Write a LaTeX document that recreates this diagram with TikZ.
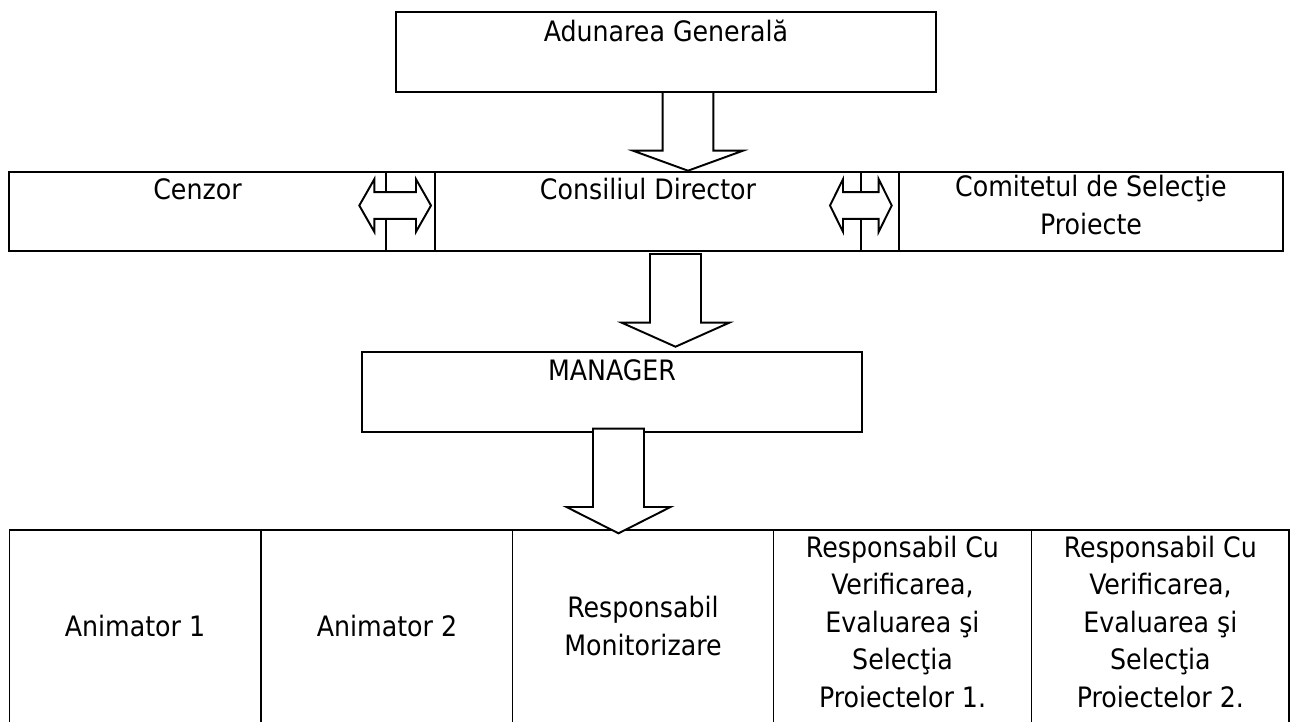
\documentclass[tikz,border=0pt]{standalone}
\usepackage{fontspec}
\setmainfont{DejaVu Sans Condensed}

% down block arrow: top point, shaft half width, shaft length, head half width, head length
\newcommand{\blockdown}[5]{%
  \draw[blockarrow] (#1) ++(-#2,0) -- ++(0,#3) -- ++(#2-#4,0) -- ++(#4,#5)
    -- ++(#4,-#5) -- ++(#2-#4,0) -- ++(0,-#3) -- cycle;}
% left-right block arrow: left tip, total length, head length
\newcommand{\blockboth}[3]{%
  \draw[blockarrow] (#1) -- ++(#3,-26.3) -- ++(0,13) -- ++(#2-2*#3,0) -- ++(0,-13)
    -- ++(#3,26.3) -- ++(-#3,26.3) -- ++(0,-13) -- ++(2*#3-#2,0) -- ++(0,13) -- cycle;}

\begin{document}
\begin{tikzpicture}[x=0.02cm,y=-0.02cm]
  \tikzset{lbl/.style={anchor=base,inner sep=0pt,font=\fontsize{16}{19}\selectfont},
           cell/.style={line width=0.8pt},
           grid/.style={line width=0.65pt},
           blockarrow/.style={draw,fill=white,line width=1.1pt,miter limit=10}}
  \useasboundingbox (0,0) rectangle (1292,721);
  \clip (0,0) rectangle (1292,721);

  % Adunarea Generala
  \draw[cell] (396,12) rectangle (936,92);
  \node[lbl] (adunarea) at (666,41) {Adunarea Generală};

  % Cenzor / Consiliul Director / Comitetul
  \draw[cell] (9,172) rectangle (1283,251);
  \foreach \x in {386,435,861,899}
    \draw[grid] (\x,172) -- (\x,251);
  \node[lbl] (cenzor) at (197.5,199) {Cenzor};
  \node[lbl] (consiliu) at (648,199) {Consiliul Director};
  \node[lbl] (comitet) at (1091,196) {Comitetul de Selecţie};
  \node[lbl] (comitet2) at (1091,234) {Proiecte};

  % MANAGER
  \draw[cell] (362,352) rectangle (862,432);
  \node[lbl] (manager) at (612,380) {MANAGER};

  % bottom row
  \draw[grid] (9.3,740) -- (9.3,530) -- (1289,530) -- (1289,740);
  \foreach \x in {261,512.7,773.3,1031.8}
    \draw[grid] (\x,530) -- (\x,740);
  \node[lbl] (anim1) at (135,636) {Animator 1};
  \node[lbl] (anim2) at (387,636) {Animator 2};
  \node[lbl] (monit1) at (643,617) {Responsabil};
  \node[lbl] (monit2) at (643,655) {Monitorizare};
  \foreach \x/\n in {902.5/1,1160.4/2}
    \foreach \t [count=\i] in {Responsabil Cu,{Verificarea,},Evaluarea şi,Selecţia,Proiectelor \n.}
      \node[lbl] (resp\n-\i) at (\x,519.5+37.5*\i) {\t};

  % arrows
  \coordinate (a1) at (688,92);
  \coordinate (a2) at (675.5,254);
  \coordinate (a3) at (618.5,428.7);
  \blockdown{a1}{25.3}{58.7}{55}{20}
  \blockdown{a2}{25.5}{68.7}{53.8}{24}
  \blockdown{a3}{25.5}{78.3}{52}{26.3}
  \coordinate (b1) at (359.3,205.5);
  \coordinate (b2) at (830,205.5);
  \blockboth{b1}{71.7}{15}
  \blockboth{b2}{61.7}{13}
\end{tikzpicture}
\end{document}
